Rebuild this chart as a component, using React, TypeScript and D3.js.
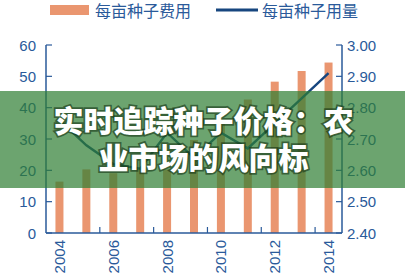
import React from "react";
import * as d3 from "d3";

const years = ["2004","2005","2006","2007","2008","2009","2010","2011","2012","2013","2014"];
const seedCost = [16.4, 20.3, 19.1, 20.7, 20.3, 29.7, 35.1, 42.6, 48.3, 51.7, 54.4];
const seedAmount = [2.76, 2.68, 2.62, 2.605, 2.72, 2.64, 2.72, 2.67, 2.75, 2.83, 2.91];
const leftTicks = [0, 10, 20, 30, 40, 50, 60];
const rightTicks = [2.4, 2.5, 2.6, 2.7, 2.8, 2.9, 3.0];
const labelYears = ["2004","2006","2008","2010","2012","2014"];
const legendLabels = ["每亩种子费用", "每亩种子用量"];
const titleLines = ["实时追踪种子价格：农", "业市场的风向标"];

const W = 405, H = 280;
const AXIS = "#2a5a9a";
const ORANGE = "#ea9670";
const NAVY = "#17467f";
const FONT = "'Liberation Sans', Arial, sans-serif";
const CJK = "'Noto Sans CJK SC', sans-serif";

export default function App() {
  const x = d3.scaleBand<string>().domain(years).range([46, 342]);
  const yL = d3.scaleLinear().domain([0, 60]).range([233, 45]);
  const yR = d3.scaleLinear().domain([2.4, 3.0]).range([233, 45]);
  const barW = 8;
  const line = d3.line<number>()
    .x((_, i) => (x(years[i]) as number) + x.bandwidth() / 2)
    .y((d) => yR(d));
  const boundaryTicks = [2, 4, 6, 8, 10].map((i) => 46 + i * x.bandwidth());

  return (
    <svg width={W} height={H} style={{ position: "absolute", left: 0, top: 0, background: "#fff" }}>
      {/* legend */}
      <rect x={50} y={5} width={39} height={10} fill={ORANGE} />
      <text x={95} y={17} fontSize={16} fill={AXIS} fontFamily={CJK}>{legendLabels[0]}</text>
      <line x1={216} x2={258} y1={10} y2={10} stroke={NAVY} strokeWidth={3} />
      <text x={262} y={17} fontSize={16} fill={AXIS} fontFamily={CJK}>{legendLabels[1]}</text>

      {/* bars */}
      {seedCost.map((v, i) => (
        <rect key={years[i]}
          x={(x(years[i]) as number) + x.bandwidth() / 2 - barW / 2}
          y={yL(v)} width={barW} height={yL(0) - yL(v)} fill={ORANGE} />
      ))}

      {/* line */}
      <path d={line(seedAmount) || ""} fill="none" stroke={NAVY} strokeWidth={2.4} />

      {/* axes */}
      <line x1={46} x2={46} y1={45} y2={233} stroke={AXIS} strokeWidth={1.5} />
      <line x1={342} x2={342} y1={45} y2={233} stroke={AXIS} strokeWidth={1.5} />
      <line x1={46} x2={342} y1={233} y2={233} stroke={AXIS} strokeWidth={1.5} />
      {leftTicks.map((t) => (
        <g key={"l" + t}>
          <line x1={46} x2={52} y1={yL(t)} y2={yL(t)} stroke={AXIS} strokeWidth={1.2} />
          <text x={36} y={yL(t) + 5.5} textAnchor="end" fontSize={15} fill={AXIS} fontFamily={FONT}>{t}</text>
        </g>
      ))}
      {rightTicks.map((t) => (
        <g key={"r" + t}>
          <line x1={336} x2={342} y1={yR(t)} y2={yR(t)} stroke={AXIS} strokeWidth={1.2} />
          <text x={347} y={yR(t) + 5.5} textAnchor="start" fontSize={15} fill={AXIS} fontFamily={FONT}>{t.toFixed(2)}</text>
        </g>
      ))}
      {boundaryTicks.map((bx) => (
        <line key={"b" + bx} x1={bx} x2={bx} y1={227} y2={233} stroke={AXIS} strokeWidth={1.2} />
      ))}
      {labelYears.map((yr) => {
        const cx = (x(yr) as number) + x.bandwidth() / 2;
        return (
          <text key={yr} transform={`translate(${cx + 5.5},240) rotate(-90)`} textAnchor="end"
            fontSize={15} fill={AXIS} fontFamily={FONT}>{yr}</text>
        );
      })}

      {/* overlay band */}
      <rect x={0} y={91} width={W} height={97} fill="#2e7d32" opacity={0.7} />
      {titleLines.map((t, i) => (
        <text key={i} x={203.5} y={132 + i * 37} textAnchor="middle" fontSize={30} fontWeight={900}
          fontFamily={CJK} fill="#fff" stroke="rgba(20,50,20,0.6)" strokeWidth={3.5}
          style={{ paintOrder: "stroke" }}>{t}</text>
      ))}
    </svg>
  );
}
